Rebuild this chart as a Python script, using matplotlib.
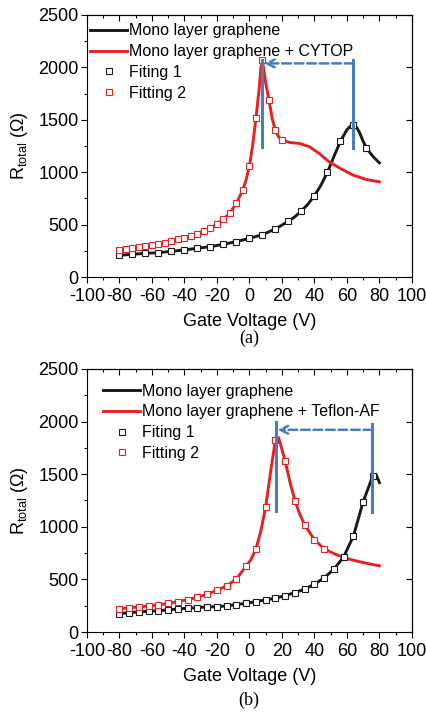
import matplotlib
matplotlib.use('Agg')
import matplotlib.pyplot as plt
from matplotlib.ticker import MultipleLocator

plt.rcParams['font.family'] = ['Liberation Sans', 'DejaVu Sans']
plt.rcParams['mathtext.fontset'] = 'custom'
plt.rcParams['mathtext.rm'] = 'Liberation Sans'
plt.rcParams['mathtext.it'] = 'Liberation Sans'
plt.rcParams['axes.unicode_minus'] = False

# ---- panel (a) data ----
a_fit1_x = [-80, -72, -64, -56, -48, -40, -32, -24, -16, -8, 0, 8, 16, 24, 32, 40, 48, 56, 64, 72]
a_fit1_y = [207, 217, 226, 232, 245, 258, 274, 290, 312, 338, 369, 404, 459, 532, 631, 777, 1000, 1296, 1446, 1232]
a_line1_x = [-80, -72, -64, -56, -48, -40, -32, -24, -16, -8, 0, 8, 16, 24, 28, 32, 36, 40, 44, 48, 52,
             56, 60, 62, 64, 66, 68, 70, 72, 76, 80]
a_line1_y = [207, 217, 226, 232, 245, 258, 274, 290, 312, 338, 369, 404, 459, 532, 575, 631, 695, 777, 875, 1000, 1150,
             1296, 1405, 1438, 1446, 1428, 1370, 1295, 1232, 1150, 1089]

a_fit2_x = [-80, -76, -72, -68, -64, -60, -56, -52, -48, -44, -40, -36, -32, -28, -24, -20, -16, -12, -8, -4,
            0, 4, 8, 12, 16, 20]
a_fit2_y = [261, 271, 280, 287, 293, 303, 315, 328, 344, 360, 373, 392, 414, 440, 465, 506, 551, 611, 704, 834,
            1061, 1516, 2070, 1691, 1398, 1306]
a_line2_x = [-80, -76, -72, -68, -64, -60, -56, -52, -48, -44, -40, -36, -32, -28, -24, -20, -16, -12, -8, -4,
             -2, 0, 2, 4, 6, 7, 8, 9, 10, 12, 14, 16, 18, 20, 25, 31, 37, 43, 49, 56, 64, 72, 80]
a_line2_y = [261, 271, 280, 287, 293, 303, 315, 328, 344, 360, 373, 392, 414, 440, 465, 506, 551, 611, 704, 834,
             930, 1061, 1260, 1516, 1800, 1990, 2070, 1960, 1850, 1691, 1510, 1398, 1335, 1306, 1283, 1274, 1242,
             1178, 1099, 1035, 971, 930, 908]

# ---- panel (b) data ----
b_fit1_x = [-80, -74, -68, -62, -56, -50, -44, -38, -32, -26, -20, -14, -8, -2, 4, 10, 16, 22, 28, 34, 40,
            46, 52, 58, 64, 70, 76]
b_fit1_y = [175, 184, 191, 197, 203, 210, 219, 226, 232, 238, 241, 248, 261, 273, 289, 305, 321, 346, 375, 407, 454,
            515, 597, 715, 912, 1239, 1487]
b_line1_x = b_fit1_x + [78, 80]
b_line1_y = b_fit1_y + [1495, 1420]

b_fit2_x = [-80, -74, -68, -62, -56, -50, -44, -38, -32, -26, -20, -14, -8, -2, 4, 10, 16, 22, 28, 34, 40, 46]
b_fit2_y = [222, 232, 238, 248, 257, 273, 289, 308, 330, 359, 397, 438, 505, 626, 788, 1191, 1827, 1627, 1249,
            1017, 877, 791]
b_line2_x = [-80, -74, -68, -62, -56, -50, -44, -38, -32, -26, -20, -14, -8, -2, 1, 4, 7, 10, 13, 16, 17, 18, 19,
             22, 25, 28, 31, 34, 40, 46, 52, 58, 64, 70, 76, 80]
b_line2_y = [222, 232, 238, 248, 257, 273, 289, 308, 330, 359, 397, 438, 505, 626, 690, 788, 960, 1191, 1520, 1827,
             1850, 1845, 1790, 1627, 1420, 1249, 1120, 1017, 877, 791, 745, 708, 682, 660, 641, 629]

# blue shift markers: (x_left, x_right, y_bottom_l, y_top_l, y_bottom_r, y_top_r, arrow_y, arrow_tip)
a_shift = (8, 64, 1240, 2070, 1232, 2070, 2038, 9)
b_shift = (16.3, 75.6, 1153, 1992, 1144, 1979, 1922, 17.3)

BLUE = '#4a7ebb'
RED = '#e8201f'


def draw_panel(ax, l1x, l1y, l2x, l2y, f1x, f1y, f2x, f2y, label2, shift, leg_anchor):
    ax.plot(l1x, l1y, color='#1a1a1a', lw=2.1, label='Mono layer graphene', zorder=2)
    ax.plot(l2x, l2y, color=RED, lw=2.1, label='Mono layer graphene + ' + label2, zorder=2)
    ax.plot(f1x, f1y, 's', ms=4.2, mfc='white', mec='#1a1a1a', mew=0.8, ls='none', label='Fiting 1', zorder=3)
    ax.plot(f2x, f2y, 's', ms=4.2, mfc='white', mec=RED, mew=0.8, ls='none', label='Fitting 2', zorder=3)

    xl, xr, yb1, yt1, yb2, yt2, ay, tip = shift
    ax.plot([xl, xl], [yb1, yt1], color=BLUE, lw=2.2, zorder=4)
    ax.plot([xr, xr], [yb2, yt2], color=BLUE, lw=2.2, zorder=4)
    ax.annotate('', xy=(tip, ay), xytext=(xr, ay),
                arrowprops=dict(arrowstyle='->', color=BLUE, lw=1.8, ls=(0, (3.5, 1.5)),
                                mutation_scale=14, shrinkA=0, shrinkB=0), zorder=4)

    ax.set_xlim(-100, 100)
    ax.set_ylim(0, 2500)
    ax.xaxis.set_major_locator(MultipleLocator(20))
    ax.xaxis.set_minor_locator(MultipleLocator(10))
    ax.yaxis.set_major_locator(MultipleLocator(500))
    ax.yaxis.set_minor_locator(MultipleLocator(250))
    ax.tick_params(which='both', direction='out', labelsize=13, width=0.8, pad=2)
    ax.tick_params(axis='x', pad=4)
    ax.tick_params(which='major', length=4)
    ax.tick_params(which='minor', length=2.5)
    # inward ticks on the top / right spines
    top = ax.secondary_xaxis('top')
    top.xaxis.set_major_locator(MultipleLocator(20))
    top.xaxis.set_minor_locator(MultipleLocator(10))
    top.tick_params(which='both', direction='in', labeltop=False, width=0.8)
    top.tick_params(which='major', length=4)
    top.tick_params(which='minor', length=2.5)
    right = ax.secondary_yaxis('right')
    right.yaxis.set_major_locator(MultipleLocator(500))
    right.yaxis.set_minor_locator(MultipleLocator(250))
    right.tick_params(which='both', direction='in', labelright=False, width=0.8)
    right.tick_params(which='major', length=4)
    right.tick_params(which='minor', length=0)
    for s in ax.spines.values():
        s.set_linewidth(0.8)

    ax.set_xlabel('Gate Voltage (V)', fontsize=13, labelpad=6)
    ax.set_ylabel(r'R$_{\mathrm{total}}$ ($\Omega$)', fontsize=13)
    ax.yaxis.set_label_coords(-0.175, 0.5)
    ax.legend(loc='upper left', bbox_to_anchor=leg_anchor, frameon=False, fontsize=11.5,
              handlelength=2.3, handletextpad=0.15, labelspacing=0.36, borderaxespad=0, borderpad=0)


fig = plt.figure(figsize=(4.27, 7.13), dpi=100)
ax1 = fig.add_axes([0.2037, 0.6115, 0.761, 0.3675])
ax2 = fig.add_axes([0.2037, 0.1136, 0.761, 0.3689])

draw_panel(ax1, a_line1_x, a_line1_y, a_line2_x, a_line2_y, a_fit1_x, a_fit1_y, a_fit2_x, a_fit2_y,
           'CYTOP', a_shift, (0.01, 0.968))
draw_panel(ax2, b_line1_x, b_line1_y, b_line2_x, b_line2_y, b_fit1_x, b_fit1_y, b_fit2_x, b_fit2_y,
           'Teflon-AF', b_shift, (0.05, 0.944))

fig.text(0.583, 0.526, '(a)', ha='center', va='center', fontsize=13, family='Liberation Serif')
fig.text(0.583, 0.018, '(b)', ha='center', va='center', fontsize=13, family='Liberation Serif')

fig.savefig('out.png', dpi=100)
